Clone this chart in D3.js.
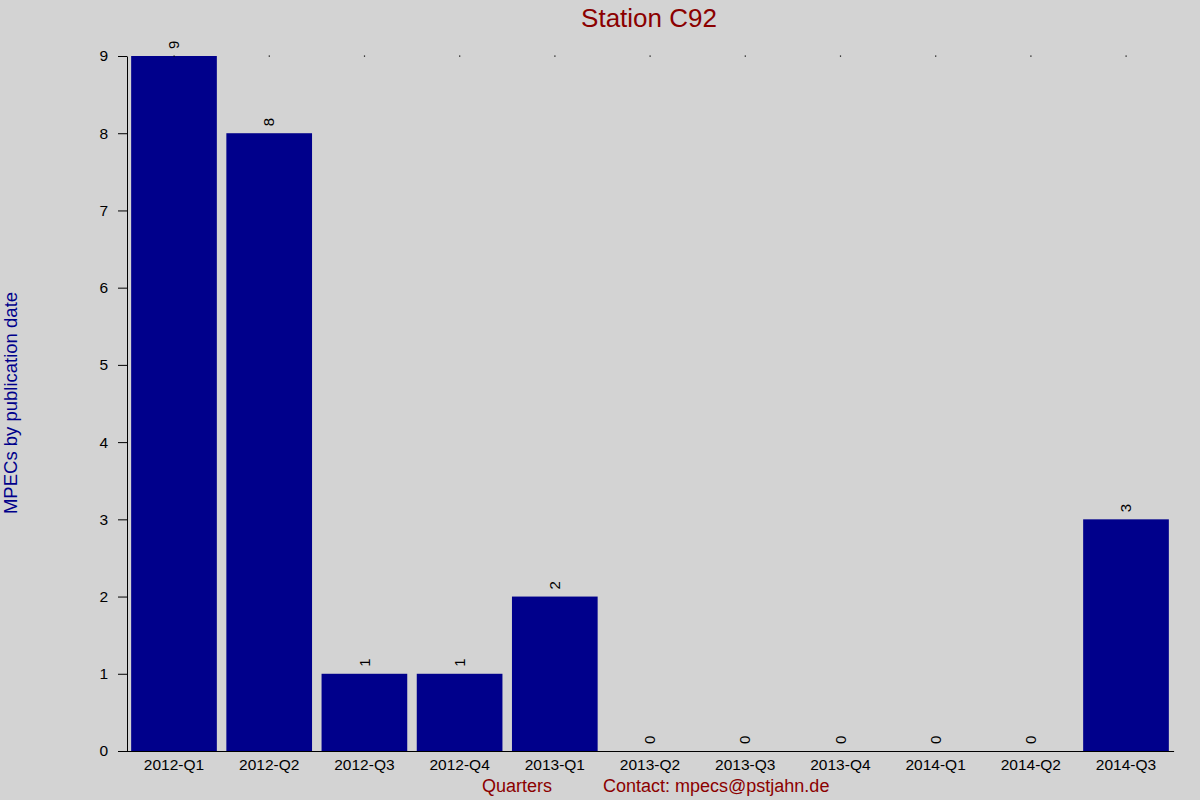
<!DOCTYPE html>
<html><head><meta charset="utf-8">
<script src="https://cdn.jsdelivr.net/npm/d3@7"></script>
<style>html,body{margin:0;padding:0;background:#d3d3d3;}svg{display:block;font-family:"Liberation Sans",Arial,sans-serif;}</style>
</head><body>
<script>
const quarters = ["2012-Q1","2012-Q2","2012-Q3","2012-Q4","2013-Q1","2013-Q2","2013-Q3","2013-Q4","2014-Q1","2014-Q2","2014-Q3"];
const counts = [9,8,1,1,2,0,0,0,0,0,3];
const yTicks = [0,1,2,3,4,5,6,7,8,9];
const titleText = "Station C92";
const yLabel = "MPECs by publication date";
const xLabel = "Quarters";
const contact = "Contact: mpecs@pstjahn.de";

const W = 1200, H = 800;
const svg = d3.select("body").append("svg").attr("width", W).attr("height", H);
svg.append("rect").attr("width", W).attr("height", H).attr("fill", "#d3d3d3");

const x = d3.scaleBand().domain(quarters).range([126.4, 1173.6]).paddingInner(0.1).paddingOuter(0.05);
const y = d3.scaleLinear().domain([0, 9]).range([751, 56]);

// bars
svg.append("g").selectAll("rect").data(quarters).join("rect")
  .attr("x", d => x(d)).attr("width", x.bandwidth())
  .attr("y", (d, i) => y(counts[i])).attr("height", (d, i) => y(0) - y(counts[i]))
  .attr("fill", "#00008b");

// small dots at top level
svg.append("g").selectAll("rect").data(quarters).join("rect")
  .attr("x", d => x(d) + x.bandwidth() / 2 - 0.5).attr("y", y(9) - 0.5)
  .attr("width", 1.2).attr("height", 1.2).attr("fill", "#000");

// value labels
svg.append("g").selectAll("text").data(quarters).join("text")
  .attr("transform", (d, i) => `translate(${x(d) + x.bandwidth() / 2},${y(counts[i]) - 7}) rotate(-90)`)
  .attr("text-anchor", "start").attr("dy", "0.35em")
  .attr("font-size", 15).attr("fill", "#000")
  .text((d, i) => counts[i]);

// y axis
const ya = svg.append("g").attr("transform", "translate(127,0)")
  .call(d3.axisLeft(y).tickValues(yTicks).tickFormat(d3.format("d")).tickSize(9).tickSizeOuter(0).tickPadding(10));
ya.selectAll("text").attr("font-size", 15.5).attr("fill", "#000").attr("font-family", "Liberation Sans, Arial, sans-serif");
ya.selectAll("line").attr("stroke", "#000");
ya.select(".domain").attr("stroke", "#000");

// x axis
const xa = svg.append("g").attr("transform", "translate(0,751)")
  .call(d3.axisBottom(x).tickSize(0).tickSizeOuter(0).tickPadding(8));
xa.selectAll("text").attr("font-size", 15.5).attr("fill", "#000").attr("font-family", "Liberation Sans, Arial, sans-serif");
xa.select(".domain").attr("stroke", "#000");

// title
svg.append("text").attr("x", 649).attr("y", 27).attr("text-anchor", "middle")
  .attr("font-size", 26).attr("fill", "#8b0000").text(titleText);

// y label
svg.append("text").attr("transform", "translate(17,403) rotate(-90)").attr("text-anchor", "middle")
  .attr("font-size", 18.5).attr("fill", "#00008b").text(yLabel);

// x label & contact
svg.append("text").attr("x", 517).attr("y", 792).attr("text-anchor", "middle")
  .attr("font-size", 18).attr("fill", "#8b0000").text(xLabel);
svg.append("text").attr("x", 603).attr("y", 792).attr("text-anchor", "start")
  .attr("font-size", 18).attr("fill", "#8b0000").text(contact);
</script>
</body></html>
